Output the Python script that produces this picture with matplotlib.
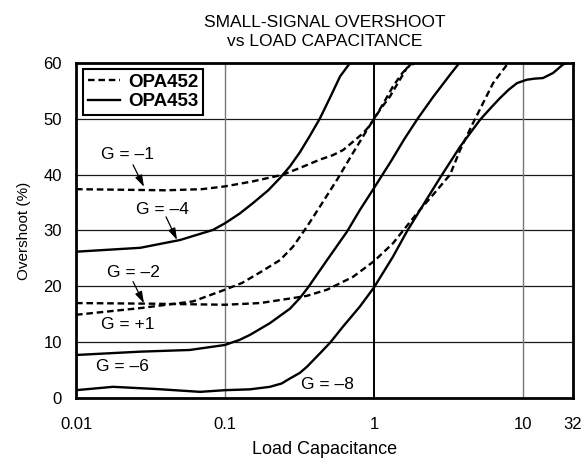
import numpy as np
import matplotlib.pyplot as plt

plt.rcParams['font.family'] = ['Liberation Sans', 'DejaVu Sans']

# OPA452 curves (dashed)
c_g1 = [0.01, 0.02, 0.04, 0.07, 0.1, 0.154, 0.245, 0.318, 0.434, 0.53, 0.62, 0.723, 0.843, 0.93, 1.0, 1.13, 1.28, 1.46, 1.66, 1.88]
v_g1 = [37.4, 37.3, 37.2, 37.4, 37.9, 38.8, 40.0, 41.2, 42.7, 43.5, 44.4, 45.9, 47.4, 48.7, 50.0, 52.1, 54.0, 56.6, 59.1, 60.0]

c_gp1 = [0.01, 0.027, 0.061, 0.1, 0.13, 0.172, 0.234, 0.286, 0.355, 0.434, 0.565, 0.723, 0.897, 1.0, 1.17, 1.34, 1.55, 1.8]
v_gp1 = [14.9, 16.1, 17.3, 19.4, 20.6, 22.5, 24.7, 27.1, 30.7, 34.3, 39.1, 43.9, 48.0, 50.0, 53.0, 55.8, 58.2, 60.0]

c_g2 = [0.01, 0.03, 0.1, 0.172, 0.286, 0.355, 0.484, 0.723, 1.0, 1.34, 1.57, 1.96, 2.49, 3.24, 3.78, 4.61,
        5.39, 6.3, 7.81, 8.0]
v_g2 = [17.0, 16.9, 16.7, 17.0, 17.9, 18.3, 19.4, 21.7, 24.5, 27.7, 30.0, 33.2, 36.4, 40.0, 44.4, 49.2,
        52.8, 56.4, 59.7, 60.0]

# OPA453 curves (solid)
c_g4 = [0.01, 0.027, 0.05, 0.083, 0.1, 0.125, 0.154, 0.195, 0.234, 0.273, 0.318, 0.372, 0.434, 0.507, 0.592, 0.69]
v_g4 = [26.2, 26.9, 28.3, 30.1, 31.3, 33.0, 34.9, 37.2, 39.4, 41.5, 44.0, 47.0, 50.1, 53.8, 57.6, 60.0]

c_g6 = [0.01, 0.027, 0.058, 0.1, 0.125, 0.147, 0.2, 0.273, 0.318, 0.361, 0.484, 0.659, 0.805, 1.0, 1.3, 1.6,
        1.96, 2.49, 3.24, 3.66, 3.75]
v_g6 = [7.7, 8.3, 8.6, 9.5, 10.4, 11.3, 13.4, 16.0, 17.9, 19.8, 24.7, 29.8, 33.7, 37.6, 42.4, 46.4,
        50.0, 53.9, 57.9, 59.7, 60.0]

c_g8 = [0.01, 0.0177, 0.035, 0.068, 0.1, 0.147, 0.2, 0.24, 0.273, 0.318, 0.355, 0.434, 0.507, 0.62, 0.805, 1.0,
        1.34, 1.66, 2.04, 2.77, 3.78, 5.14, 6.1, 7.0, 8.0, 9.12, 10.6, 12.0, 13.6, 15.9, 18.5, 19.5]
v_g8 = [1.4, 2.0, 1.6, 1.1, 1.4, 1.55, 2.0, 2.6, 3.5, 4.5, 5.6, 8.0, 9.9, 12.8, 16.4, 19.8,
        25.3, 29.8, 33.7, 39.4, 45.0, 49.8, 52.0, 53.7, 55.2, 56.4, 57.0, 57.2, 57.3, 58.2, 59.7, 60.0]

x_ticks = [0.01, 0.1, 1, 10, 21.65]
x_labels = ['0.01', '0.1', '1', '10', '32']
y_ticks = [0, 10, 20, 30, 40, 50, 60]

fig = plt.figure(figsize=(5.86, 4.69), dpi=100)
ax = fig.add_axes([0.1297, 0.1514, 0.8481, 0.7143])

dash = (2.8, 1.6)
lw = 1.7
for c, v in [(c_g1, v_g1), (c_gp1, v_gp1), (c_g2, v_g2)]:
    ax.plot(c, v, color='black', lw=lw, dashes=dash)
for c, v in [(c_g4, v_g4), (c_g6, v_g6), (c_g8, v_g8)]:
    ax.plot(c, v, color='black', lw=lw, solid_joinstyle='round')

ax.set_xscale('log')
ax.set_xlim(0.01, 21.65)
ax.set_ylim(0, 60)
ax.set_xticks(x_ticks)
ax.set_xticklabels(x_labels)
ax.set_yticks(y_ticks)
ax.minorticks_off()
ax.tick_params(axis='x', length=0, pad=14, labelsize=12)
ax.tick_params(axis='y', length=0, pad=10, labelsize=12)

# grid
for y in y_ticks[1:-1]:
    ax.axhline(y, color='#1a1a1a', lw=0.9, zorder=0)
ax.axvline(0.1, color='#777777', lw=1.0, zorder=0)
ax.axvline(10, color='#777777', lw=1.0, zorder=0)
ax.axvline(1, color='black', lw=1.4, zorder=0)

for s in ax.spines.values():
    s.set_linewidth(2.0)

ax.set_title('SMALL-SIGNAL OVERSHOOT\nvs LOAD CAPACITANCE', fontsize=12.5, pad=12, linespacing=1.35)
ax.set_xlabel('Load Capacitance', fontsize=13, labelpad=6)
ax.set_ylabel('Overshoot (%)', fontsize=11, labelpad=9)

# legend
h1, = ax.plot([], [], color='black', lw=lw, dashes=dash)
h2, = ax.plot([], [], color='black', lw=lw)
leg = ax.legend([h1, h2], ['OPA452', 'OPA453'], loc='upper left', bbox_to_anchor=(0.014, 0.982),
                borderaxespad=0, fancybox=False, framealpha=1, edgecolor='black',
                prop={'weight': 'bold', 'size': 13.5}, handlelength=1.75, handletextpad=0.4,
                borderpad=0.25, labelspacing=0.12)
leg.get_frame().set_linewidth(1.5)

# curve labels
labels = [('G = –1', 0.02233, 43.55), ('G = –4', 0.03777, 33.69), ('G = –2', 0.02413, 22.46),
          ('G = +1', 0.02233, 13.08), ('G = –6', 0.02035, 5.61), ('G = –8', 0.4836, 2.33)]
for txt, x, y in labels:
    ax.text(x, y, txt, ha='center', va='center', fontsize=12.5)

arrows = [((0.02413, 41.76), (0.02860, 37.81)),
          ((0.04018, 32.44), (0.04764, 28.32)),
          ((0.02413, 20.84), (0.02860, 16.97))]
for tail, tip in arrows:
    ax.annotate('', xy=tip, xytext=tail,
                arrowprops=dict(arrowstyle='-|>,head_length=0.7,head_width=0.22', color='black', lw=0.9,
                                shrinkA=0, shrinkB=0))

fig.savefig('out.png', dpi=100)
